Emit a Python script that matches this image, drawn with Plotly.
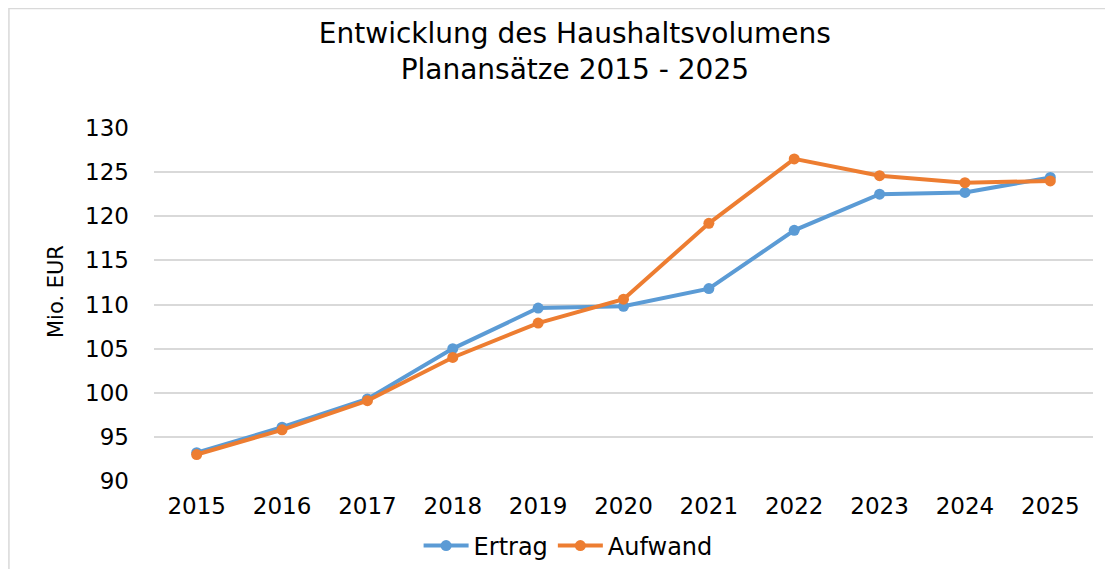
import plotly.graph_objects as go

years = ["2015", "2016", "2017", "2018", "2019", "2020", "2021", "2022", "2023", "2024", "2025"]
ertrag = [93.2, 96.1, 99.3, 105.0, 109.6, 109.8, 111.8, 118.4, 122.5, 122.7, 124.4]
aufwand = [93.0, 95.8, 99.1, 104.0, 107.9, 110.6, 119.2, 126.5, 124.6, 123.8, 124.0]
y_ticks = [90, 95, 100, 105, 110, 115, 120, 125, 130]

FONT = "DejaVu Sans"
BLUE = "#5B9BD5"
ORANGE = "#ED7D31"

fig = go.Figure()
fig.add_trace(go.Scatter(x=years, y=ertrag, name="Ertrag", mode="lines+markers",
                         line=dict(color=BLUE, width=4),
                         marker=dict(color=BLUE, size=11)))
fig.add_trace(go.Scatter(x=years, y=aufwand, name="Aufwand", mode="lines+markers",
                         line=dict(color=ORANGE, width=4),
                         marker=dict(color=ORANGE, size=11)))

fig.update_layout(
    width=1105, height=561,
    margin=dict(l=146, r=20, t=120, b=88, autoexpand=False),
    paper_bgcolor="white", plot_bgcolor="white",
    font=dict(family=FONT, color="#000000", size=23),
    title=dict(text="Entwicklung des Haushaltsvolumens<br>Planansätze 2015 - 2025",
               x=0.513, xanchor="center", y=0.938, yanchor="middle",
               font=dict(family=FONT, size=28, color="#000000")),
    showlegend=True,
    legend=dict(orientation="h", x=0.441, xanchor="center", y=-0.184, yanchor="middle",
                font=dict(family=FONT, size=24, color="#000000"),
                itemwidth=45, bgcolor="rgba(0,0,0,0)"),
    xaxis=dict(type="category", range=[-0.5, 10.5], showgrid=False, showline=False,
               zeroline=False, ticks="", tickfont=dict(size=23), ticklabelstandoff=9,
               automargin=False),
    yaxis=dict(range=[90, 130], tickvals=y_ticks, showgrid=True, gridcolor="#d9d9d9",
               gridwidth=1.5, zeroline=False, showline=False, ticks="",
               tickfont=dict(size=23), ticklabelstandoff=24, automargin=False),
    annotations=[dict(text="Mio. EUR", xref="paper", yref="paper", x=-0.1044, y=0.538,
                      xanchor="center", yanchor="middle", textangle=-90, showarrow=False,
                      font=dict(family=FONT, size=21, color="#000000"))],
    shapes=[dict(type="rect", xref="paper", yref="paper",
                 x0=-0.1545, x1=1.03, y0=-0.26, y1=1.3385,
                 line=dict(color="#d9d9d9", width=1.5), fillcolor="rgba(0,0,0,0)",
                 layer="below")],
)

fig.write_html("out.html")
